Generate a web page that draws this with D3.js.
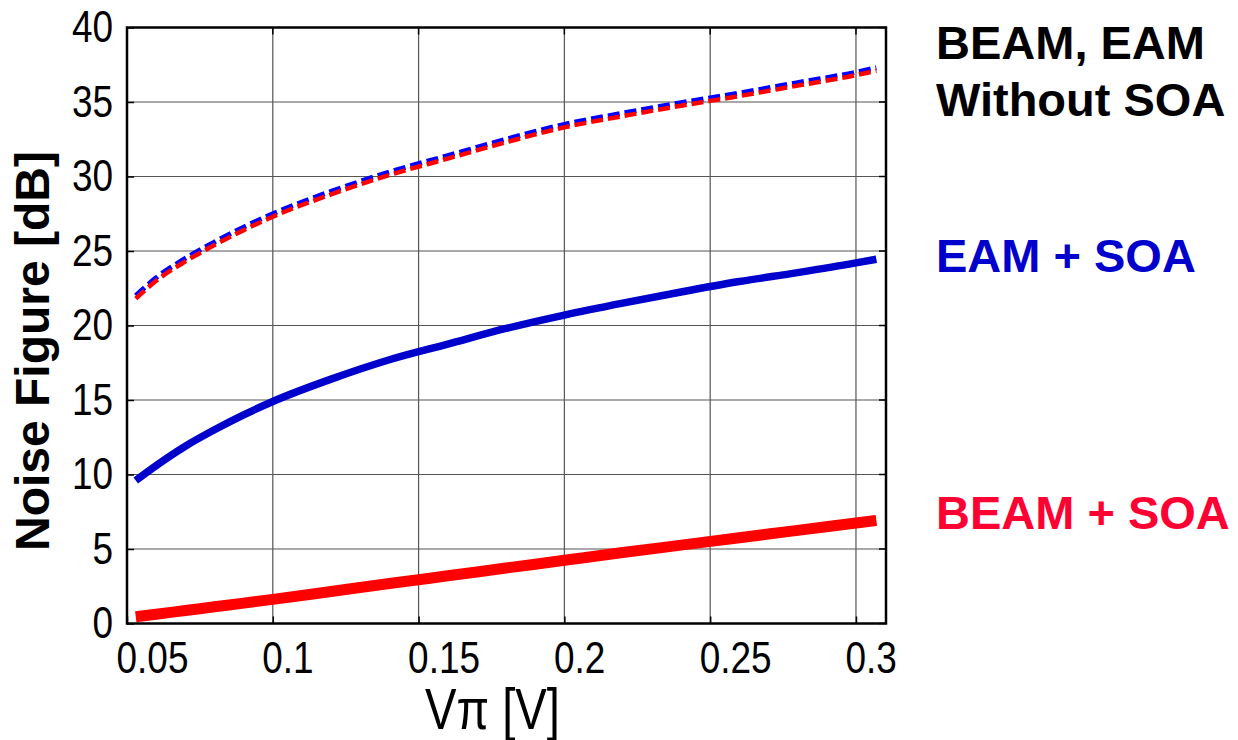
<!DOCTYPE html>
<html>
<head>
<meta charset="utf-8">
<script src="https://cdn.jsdelivr.net/npm/d3@7"></script>
<style>
  body { margin: 0; background: #fff; }
  svg { display: block; }
</style>
</head>
<body>
<div id="chart"></div>
<script>
// values
var vpi        = [0.053, 0.06, 0.07, 0.08, 0.09, 0.1, 0.12, 0.14, 0.16, 0.18, 0.2, 0.22, 0.24, 0.26, 0.28, 0.3, 0.307];
var eamNoSoa   = [22.0, 23.2, 24.5, 25.6, 26.6, 27.5, 29.0, 30.3, 31.4, 32.5, 33.5, 34.25, 34.95, 35.6, 36.3, 37.0, 37.3];
var beamNoSoa  = [21.8, 23.0, 24.3, 25.4, 26.4, 27.3, 28.8, 30.1, 31.2, 32.3, 33.3, 34.05, 34.75, 35.4, 36.1, 36.8, 37.1];
var eamSoa     = [9.6, 10.6, 11.9, 13.0, 14.0, 14.9, 16.4, 17.7, 18.75, 19.8, 20.7, 21.5, 22.25, 22.95, 23.55, 24.2, 24.45];
var beamSoa    = [0.45, 0.62, 0.87, 1.12, 1.37, 1.62, 2.15, 2.68, 3.2, 3.72, 4.24, 4.76, 5.26, 5.76, 6.25, 6.75, 6.92];

var xTicks = [0.05, 0.1, 0.15, 0.2, 0.25, 0.3];
var yTicks = [0, 5, 10, 15, 20, 25, 30, 35, 40];

var width = 1238, height = 740;
var margin = {left: 127, right: 352, top: 27.5, bottom: 116.5};
var plotW = width - margin.left - margin.right,
    plotH = height - margin.top - margin.bottom;

var svg = d3.select('#chart')
  .append('svg')
    .attr('width', width)
    .attr('height', height);

var x = d3.scaleLinear().domain([0.05, 0.3103]).range([margin.left, margin.left + plotW]);
var y = d3.scaleLinear().domain([0, 40]).range([margin.top + plotH, margin.top]);

var sansFont = '"Liberation Sans", Arial, sans-serif';

// squeeze a text horizontally, the reference uses a narrow face
function narrow(sel, k) {
  sel.each(function() {
    var w = this.getComputedTextLength();
    d3.select(this)
      .attr('textLength', w * k)
      .attr('lengthAdjust', 'spacingAndGlyphs');
  });
}

// grid
var grid = svg.append('g').attr('class', 'grid')
grid.selectAll('line.gx')
  .data(xTicks.slice(1))
  .enter().append('line')
    .attr('x1', function(d) { return x(d); })
    .attr('x2', function(d) { return x(d); })
    .attr('y1', y(0)).attr('y2', y(40))
    .style('stroke', '#555').style('stroke-width', 1.2);
grid.selectAll('line.gy')
  .data(yTicks.slice(1, -1))
  .enter().append('line')
    .attr('x1', x.range()[0]).attr('x2', x.range()[1])
    .attr('y1', function(d) { return y(d); })
    .attr('y2', function(d) { return y(d); })
    .style('stroke', '#555').style('stroke-width', 1.2);

// axes: inward ticks on bottom/left, labels drawn by the axis
var xAxis = svg.append('g')
  .attr('transform', 'translate(0,' + y(0) + ')')
  .call(d3.axisBottom(x).tickValues(xTicks).tickSize(-7).tickPadding(18).tickFormat(d3.format('')));
xAxis.selectAll('text')
  .attr('text-anchor', 'start')
  .attr('dx', -11)
  .attr('dy', '0.72em')
  .style('font-family', sansFont)
  .style('font-size', '44px')
  .style('fill', '#000')
  .call(narrow, 0.84);

var yAxis = svg.append('g')
  .attr('transform', 'translate(' + x.range()[0] + ',0)')
  .call(d3.axisLeft(y).tickValues(yTicks).tickSize(-7).tickPadding(14));
yAxis.selectAll('text')
  .style('font-family', sansFont)
  .style('font-size', '44px')
  .style('fill', '#000')
  .call(narrow, 0.84);

svg.selectAll('.domain').remove();
svg.selectAll('.tick line').style('stroke', '#000').style('stroke-width', 1.5);

// ticks on top and right
svg.append('g').selectAll('line')
  .data(xTicks.slice(1))
  .enter().append('line')
    .attr('x1', function(d) { return x(d); }).attr('x2', function(d) { return x(d); })
    .attr('y1', y(40)).attr('y2', y(40) + 7)
    .style('stroke', '#000').style('stroke-width', 1.5);
svg.append('g').selectAll('line')
  .data(yTicks)
  .enter().append('line')
    .attr('x1', x.range()[1]).attr('x2', x.range()[1] - 7)
    .attr('y1', function(d) { return y(d); }).attr('y2', function(d) { return y(d); })
    .style('stroke', '#000').style('stroke-width', 1.5);

// lines
var line = function(vals) {
  return d3.line()
    .x(function(d, i) { return x(vpi[i]); })
    .y(function(d) { return y(d); })
    .curve(d3.curveMonotoneX)(vals);
};

var series = [
  {vals: eamNoSoa,  color: '#0000ff', w: 5,   dash: '12,5'},
  {vals: beamNoSoa, color: '#ff0000', w: 4.5, dash: '12,5'},
  {vals: eamSoa,    color: '#0000cc', w: 7.5, dash: null},
  {vals: beamSoa,   color: '#ff0000', w: 11,  dash: null}
];

svg.append('g').selectAll('path')
  .data(series)
  .enter().append('path')
    .attr('d', function(d) { return line(d.vals); })
    .style('fill', 'none')
    .style('stroke', function(d) { return d.color; })
    .style('stroke-width', function(d) { return d.w; })
    .style('stroke-dasharray', function(d) { return d.dash; })
    .style('stroke-linejoin', 'round');

// frame
svg.append('rect')
  .attr('x', x.range()[0]).attr('y', y(40))
  .attr('width', plotW).attr('height', plotH)
  .style('fill', 'none').style('stroke', '#000').style('stroke-width', 2.5);

// axis titles
svg.append('text')
  .attr('transform', 'translate(49,351) rotate(-90)')
  .attr('text-anchor', 'middle')
  .style('font-family', sansFont)
  .style('font-weight', 'bold')
  .style('font-size', '48px')
  .text('Noise Figure [dB]');

svg.append('text')
  .attr('x', 425).attr('y', 729)
  .style('font-family', sansFont)
  .style('font-size', '57px')
  .attr('textLength', 135)
  .attr('lengthAdjust', 'spacingAndGlyphs')
  .text('Vπ [V]');

// curve labels
var labels = [
  {text: 'BEAM, EAM',   y: 59,  color: '#000'},
  {text: 'Without SOA', y: 116, color: '#000'},
  {text: 'EAM + SOA',   y: 272, color: '#0000cc'},
  {text: 'BEAM + SOA',  y: 529, color: '#ff0033'}
];
svg.append('g').selectAll('text')
  .data(labels)
  .enter().append('text')
    .attr('x', 936)
    .attr('y', function(d) { return d.y; })
    .style('font-family', sansFont)
    .style('font-weight', 'bold')
    .style('font-size', '47px')
    .style('fill', function(d) { return d.color; })
    .text(function(d) { return d.text; });
</script>
</body>
</html>
